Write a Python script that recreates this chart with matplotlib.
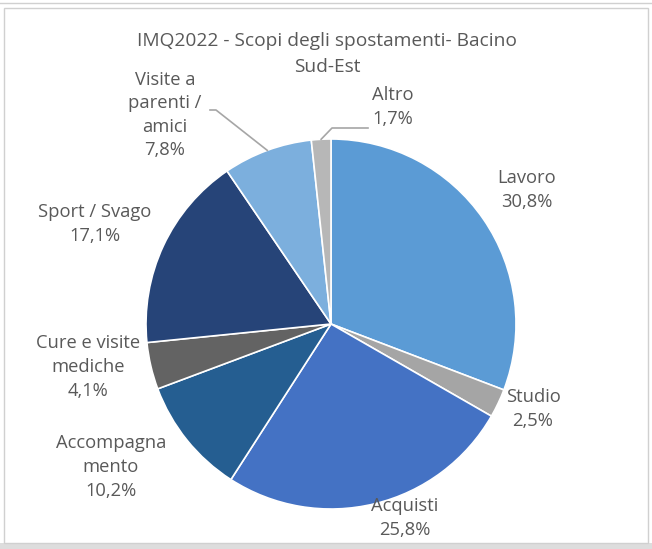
import matplotlib
matplotlib.use("Agg")
import matplotlib.pyplot as plt
import numpy as np
from matplotlib.patches import Rectangle

labels = ["Lavoro", "Studio", "Acquisti", "Accompagna\nmento", "Cure e visite\nmediche",
          "Sport / Svago", "Visite a\nparenti /\namici", "Altro"]
values = [30.8, 2.5, 25.8, 10.2, 4.1, 17.1, 7.8, 1.7]
colors = ["#5B9BD5", "#A5A5A5", "#4472C4", "#255E91", "#636363", "#264478", "#7CAFDD", "#B7B7B7"]
title = "IMQ2022 - Scopi degli spostamenti- Bacino\nSud-Est"

W, H = 652, 549
fig = plt.figure(figsize=(W / 100, H / 100), dpi=100)
plt.rcParams['font.family'] = ['Open Sans', 'DejaVu Sans']

def px(x, y):
    return (x / W, 1 - y / H)

# background frame
fig.patches.append(Rectangle((0, 0), 1, 1 - 543 / H, transform=fig.transFigure,
                             facecolor="#DDDDDD", edgecolor="none", zorder=-2))
fig.patches.append(Rectangle(px(4, 543), (648 - 4) / W, (543 - 8) / H, transform=fig.transFigure,
                             facecolor="white", edgecolor="#D0D0D0", lw=1, zorder=-2))
fig.lines.append(plt.Line2D([0, 1], [1 - 3 / H] * 2, transform=fig.transFigure, color="#D0D0D0", lw=1, zorder=-1))

cx, cy, r = 331, 324, 185
ax = fig.add_axes([(cx - r) / W, (H - cy - r) / H, 2 * r / W, 2 * r / H])
ax.set_zorder(1)
ax.patch.set_visible(False)
wedges, _ = ax.pie(values, colors=colors, startangle=90, counterclock=False, radius=1,
                   wedgeprops=dict(edgecolor="white", linewidth=1.2))
ax.set_xlim(-1, 1)
ax.set_ylim(-1, 1)
ax.axis("off")

tc = "#595959"
fig.text(*px(327, 54), title, ha="center", va="center", fontsize=13.8, color=tc, linespacing=1.6)

lab_pos = [(527, 190), (533, 409), (405, 518), (111, 467), (88, 367), (95, 224), (165, 115), (393, 107)]
for lab, v, (x, y) in zip(labels, values, lab_pos):
    s = lab + "\n" + f"{v:.1f}%".replace(".", ",")
    fig.text(*px(x, y), s, ha="center", va="center", fontsize=13.2, color=tc, linespacing=1.4,
             zorder=3)

# leader lines for Visite and Altro
def edge_point(i, frac=1.0):
    w = wedges[i]
    th = np.deg2rad((w.theta1 + w.theta2) / 2)
    return (cx + frac * r * np.cos(th), cy - frac * r * np.sin(th))

ex, ey = edge_point(6)
xs = [210, 216, ex]
ys = [110, 110, ey]
fig.lines.append(plt.Line2D([x / W for x in xs], [1 - y / H for y in ys], transform=fig.transFigure,
                            color="#A6A6A6", lw=1.2, zorder=3))
ex, ey = edge_point(7)
xs = [ex, 332, 368]
ys = [ey, 128, 128]
fig.lines.append(plt.Line2D([x / W for x in xs], [1 - y / H for y in ys], transform=fig.transFigure,
                            color="#A6A6A6", lw=1.2, zorder=3))

fig.savefig("out.png", dpi=100)
